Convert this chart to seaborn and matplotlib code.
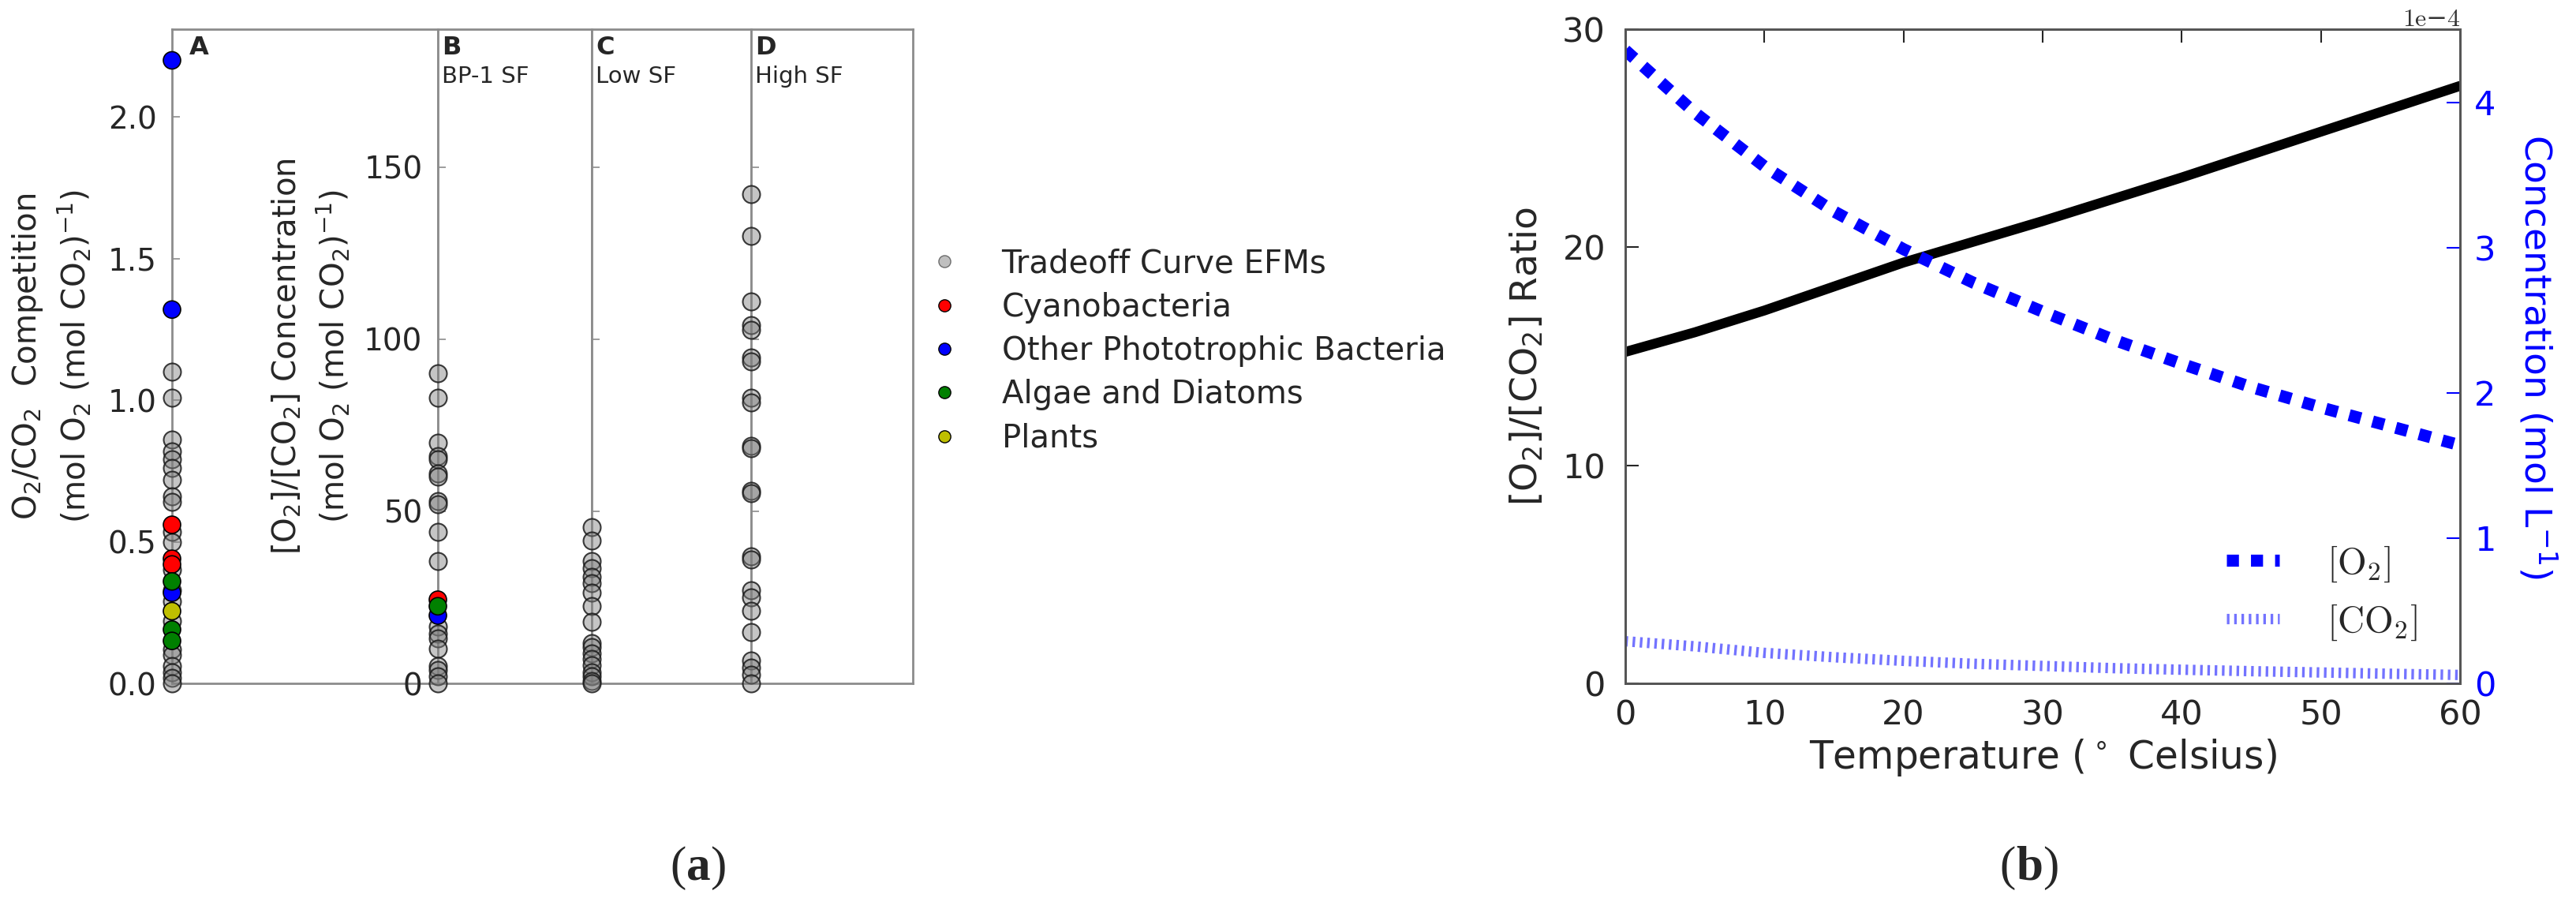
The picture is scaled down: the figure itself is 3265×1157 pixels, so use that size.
import matplotlib.pyplot as plt
import numpy as np
import pandas as pd
import seaborn as sns
from matplotlib.lines import Line2D
from matplotlib.offsetbox import TextArea, HPacker, AnchoredOffsetbox

# ---- panel (a) values ----
GROUPS = ['Tradeoff Curve EFMs', 'Cyanobacteria', 'Other Phototrophic Bacteria', 'Algae and Diatoms', 'Plants']

A_TRADEOFF = [1.10, 1.01, 0.86, 0.82, 0.79, 0.76, 0.72, 0.66, 0.64, 0.535, 0.50, 0.40, 0.33, 0.29,
              0.22, 0.12, 0.10, 0.06, 0.04, 0.02, 0.0]
A_CYANO = [0.56, 0.44, 0.42]
A_OTHER = [2.20, 1.32, 0.32]
A_ALGAE = [0.36, 0.19, 0.15]
A_PLANTS = [0.255]

B_TRADEOFF = [90, 83, 70, 66, 65, 61, 60, 53, 52, 44, 35.5, 16.4, 14.5, 13, 10, 5, 4, 2, 0]
B_CYANO = [24.3]
B_OTHER = [19.7]
B_ALGAE = [22.4]

C_TRADEOFF = [45.4, 41.4, 35.5, 33.5, 31, 29, 26.3, 22.4, 17.8, 11.8, 10.5, 8.6, 7.2, 5.3, 3.3, 2, 0.7, 0]

D_TRADEOFF = [142, 130, 111, 104, 102.6, 94.7, 93.4, 83, 81.6, 69, 68.4, 56, 55.3, 37, 36, 27, 25, 21,
              15, 6.6, 4.6, 2.6, 0]

PANEL_TITLES = {'A': '', 'B': 'BP-1 SF', 'C': 'Low SF', 'D': 'High SF'}

# ---- panel (b) values ----
TEMPERATURE = [0, 5, 10, 15, 20, 25, 30, 35, 40, 45, 50, 55, 60]
RATIO = [15.2, 16.1, 17.1, 18.2, 19.3, 20.25, 21.2, 22.2, 23.2, 24.25, 25.3, 26.35, 27.4]
O2_CONC = [4.36e-4, 3.93e-4, 3.56e-4, 3.25e-4, 2.99e-4, 2.76e-4, 2.56e-4, 2.37e-4, 2.20e-4,
           2.04e-4, 1.90e-4, 1.77e-4, 1.64e-4]
CO2_CONC = [0.29e-4, 0.255e-4, 0.21e-4, 0.18e-4, 0.155e-4, 0.135e-4, 0.12e-4, 0.105e-4, 0.094e-4,
            0.084e-4, 0.075e-4, 0.066e-4, 0.058e-4]

group_colors = {'Tradeoff Curve EFMs': 'gray', 'Cyanobacteria': 'red', 'Other Phototrophic Bacteria': 'blue',
                'Algae and Diatoms': 'green', 'Plants': (0.75, 0.75, 0)}

sns.set_style('white')
plt.rcParams['font.family'] = ['DejaVu Sans']
plt.rcParams['mathtext.fontset'] = 'dejavusans'


def make_df(tradeoff, cyano=(), other=(), algae=(), plants=()):
    rows = []
    for grp, vals in zip(GROUPS, [tradeoff, cyano, other, algae, plants]):
        rows.extend([[grp, v] for v in vals])
    df = pd.DataFrame(rows, columns=['group', 'value'])
    df['x'] = 0.0
    return df


panel_data = {'A': make_df(A_TRADEOFF, A_CYANO, A_OTHER, A_ALGAE, A_PLANTS),
              'B': make_df(B_TRADEOFF, B_CYANO, B_OTHER, B_ALGAE),
              'C': make_df(C_TRADEOFF),
              'D': make_df(D_TRADEOFF)}

W, H = 3265, 1157
fig = plt.figure(figsize=(W / 100, H / 100), dpi=100)

top_px, bot_px = 37, 866
y0, hh = 1 - bot_px / H, (bot_px - top_px) / H
edges = {'A': (218, 555), 'B': (555, 750), 'C': (750, 952), 'D': (952, 1157)}
SPINE_A = '#8c8c8c'

axes = {}
for key, (l, r) in edges.items():
    ax = fig.add_axes([l / W, y0, (r - l) / W, hh])
    axes[key] = ax
    df = panel_data[key]
    gray = df[df['group'] == GROUPS[0]]
    sns.scatterplot(data=gray, x='x', y='value', color='gray', s=250, edgecolor='black',
                    linewidth=1.5, clip_on=False, legend=False, ax=ax, zorder=3)
    # translucent fill but dark outline, like the original
    ax.collections[-1].set_facecolor((0.5, 0.5, 0.5, 0.45))
    ax.collections[-1].set_edgecolor((0.1, 0.1, 0.1, 0.85))
    col = df[df['group'] != GROUPS[0]]
    if len(col):
        sns.scatterplot(data=col, x='x', y='value', hue='group', palette=group_colors, s=250,
                        edgecolor='black', linewidth=1.2, clip_on=False, legend=False, ax=ax, zorder=4)
    ax.set_xlim(0, 1)
    ax.set_xticks([])
    ax.set_xlabel('')
    ax.set_ylabel('')
    for s in ax.spines.values():
        s.set_color(SPINE_A)
        s.set_linewidth(2)
    ax.tick_params(axis='y', direction='in', length=7, width=1.2, color=SPINE_A, labelsize=28, pad=14,
                   left=True, right=False)
    ax.text(0.065 if key == 'A' else 0.025, 0.972, key, transform=ax.transAxes, fontsize=23,
            fontweight='bold', ha='left', va='center')
    if PANEL_TITLES[key]:
        ax.text(0.025, 0.928, PANEL_TITLES[key], transform=ax.transAxes, fontsize=21, ha='left', va='center')

axes['A'].set_ylim(0, 2.31)
axes['A'].set_yticks([0, 0.5, 1.0, 1.5, 2.0])
axes['A'].set_ylabel('O$_2$/CO$_2$  Competition\n(mol O$_2$ (mol CO$_2$)$^{-1}$)', fontsize=29, linespacing=1.35)
axes['A'].yaxis.set_label_coords((117 - 218) / 337, 0.5)

for key in ['B', 'C', 'D']:
    axes[key].set_ylim(0, 190)
    axes[key].set_yticks([0, 50, 100, 150])
    if key != 'B':
        axes[key].set_yticklabels([])
axes['B'].set_ylabel('[O$_2$]/[CO$_2$] Concentration\n(mol O$_2$ (mol CO$_2$)$^{-1}$)', fontsize=29,
                     linespacing=1.35)
axes['B'].yaxis.set_label_coords((445 - 555) / 195, 0.5)

handles = [Line2D([], [], ls='none', marker='o', markersize=11, markerfacecolor=group_colors[g],
                  markeredgecolor='black', markeredgewidth=1, alpha=0.5 if i == 0 else 1)
           for i, g in enumerate(GROUPS)]
fig.legend(handles=handles, labels=GROUPS, loc='center left', bbox_to_anchor=(1181 / W, 1 - 445 / H),
           frameon=False, fontsize=29, handlelength=0.8, handletextpad=1.4, labelspacing=0.38,
           borderpad=0, borderaxespad=0)

# ---- panel (b) ----
SPINE_B = '#555555'
axb = fig.add_axes([2060 / W, y0, (3118 - 2060) / W, hh])
sns.lineplot(x=TEMPERATURE, y=RATIO, color='black', lw=9, ax=axb)
axb.set_xlim(0, 60)
axb.set_ylim(0, 30)
axb.set_xticks(range(0, 61, 10))
axb.set_yticks([0, 10, 20, 30])

ax2 = axb.twinx()
sns.lineplot(x=TEMPERATURE, y=O2_CONC, color='blue', lw=11, linestyle=(0, (1, 1)), ax=ax2,
             label='$[\\mathrm{O}_2]$')
sns.lineplot(x=TEMPERATURE, y=CO2_CONC, color='blue', alpha=0.55, lw=9.5, linestyle=(0, (0.25, 0.45)),
             ax=ax2, label='$[\\mathrm{CO}_2]$')
ax2.set_ylim(0, 4.505e-4)
ax2.set_yticks([0, 1e-4, 2e-4, 3e-4, 4e-4])
ax2.ticklabel_format(axis='y', style='sci', scilimits=(0, 0))

for a in (axb, ax2):
    for s in a.spines.values():
        s.set_color(SPINE_B)
        s.set_linewidth(2)
axb.tick_params(axis='both', direction='in', length=12, width=1.5, labelsize=31, top=True, right=False)
axb.tick_params(axis='x', pad=14)
axb.tick_params(axis='y', pad=18)
ax2.tick_params(axis='y', direction='in', length=12, width=1.5, colors='blue', labelsize=31, pad=13)

offset = ax2.yaxis.get_offset_text()
offset.set_fontsize(23)
offset.set_family(['cmr10', 'DejaVu Serif'])
offset.set_color('#333333')

axb.set_xlabel('Temperature ($^\\circ$ Celsius)', fontsize=35)
axb.xaxis.set_label_coords(0.5, -0.082)
axb.set_ylabel('[O$_2$]/[CO$_2$] Ratio', fontsize=34)
axb.yaxis.set_label_coords((1958 - 2060) / 1058, 0.5)
ax2.set_ylabel('Concentration (mol L$^{-1}$)', fontsize=34, color='blue', rotation=270, va='bottom')
ax2.yaxis.set_label_coords((3190 - 2060) / 1058, 0.5)

leg = ax2.legend(loc='center left', bbox_to_anchor=(0.72, 0.138), frameon=False, fontsize=34,
                 handlelength=1.42, handletextpad=1.28, labelspacing=0.5, borderpad=0, borderaxespad=0)
for t in leg.get_texts():
    t.set_math_fontfamily('cm')


# ---- captions (a) / (b) ----
def caption(letter, x):
    def ta(text, weight='normal'):
        return TextArea(text, textprops=dict(fontsize=44, family='Liberation Serif', fontweight=weight))
    box = HPacker(children=[ta('('), ta(letter, 'bold'), ta(')')], align='baseline', pad=0, sep=0)
    fig.add_artist(AnchoredOffsetbox(loc='center', child=box, pad=0, frameon=False, borderpad=0,
                                     bbox_to_anchor=(x, 1 - 1100 / H), bbox_transform=fig.transFigure))


caption('a', 885 / W)
caption('b', 2572 / W)

plt.savefig('out.png', dpi=100)
